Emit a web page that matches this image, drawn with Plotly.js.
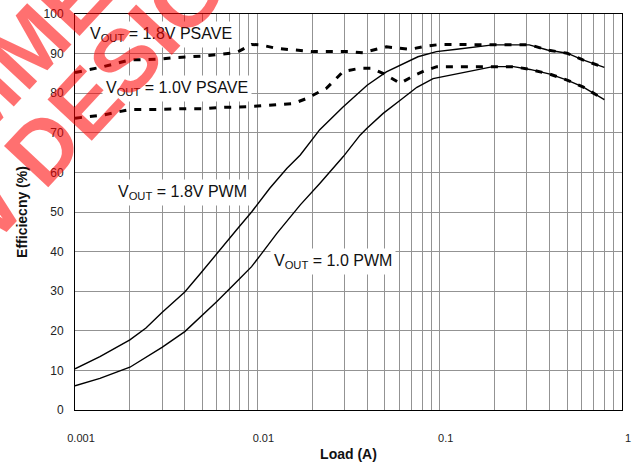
<!DOCTYPE html>
<html>
<head>
<meta charset="utf-8">
<script src="https://cdn.plot.ly/plotly-3.0.1.min.js"></script>
<style>html,body{margin:0;padding:0;background:#fff;}#chart{width:643px;height:468px;}</style>
</head>
<body>
<div id="chart"></div>
<script>
// ---- data ----
var load18pwm = [0.001, 0.00137, 0.002, 0.00245, 0.003, 0.004, 0.0049, 0.006, 0.0077, 0.0093, 0.0117, 0.0145, 0.0172, 0.022, 0.0295, 0.04, 0.051, 0.076, 0.096, 0.124, 0.196, 0.31, 0.39, 0.5, 0.61, 0.8];
var eff18pwm  = [10.4, 13.5, 17.7, 20.7, 24.6, 29.8, 34.6, 39.6, 45.5, 50, 56, 61, 64.4, 70.8, 76.5, 82, 85.4, 89.2, 90.5, 91.1, 92.2, 92.2, 90.9, 90.1, 88.4, 86.5];

var load10pwm = [0.001, 0.00137, 0.002, 0.0024, 0.003, 0.004, 0.0049, 0.006, 0.0077, 0.0093, 0.0104, 0.0128, 0.0172, 0.022, 0.0296, 0.0366, 0.0398, 0.049, 0.061, 0.075, 0.092, 0.129, 0.196, 0.254, 0.313, 0.403, 0.5, 0.61, 0.8];
var eff10pwm  = [6.1, 8, 10.8, 13, 15.8, 19.8, 23.6, 27.4, 32.4, 36.2, 39.1, 44.6, 51.8, 57.2, 64, 69.4, 71.1, 74.9, 78.3, 81.5, 83.7, 85, 86.7, 86.7, 86, 84.8, 83.3, 81.6, 78.4];

var load18ps = [0.001, 0.00143, 0.002, 0.0029, 0.0036, 0.0051, 0.0074, 0.008, 0.0093, 0.0104, 0.0128, 0.0203, 0.032, 0.038, 0.0415, 0.051, 0.069, 0.085, 0.1, 0.197, 0.313, 0.39, 0.5, 0.61, 0.8];
var eff18ps  = [85.2, 86.7, 88.4, 88.6, 89, 89.4, 90.2, 90.7, 92.3, 92.2, 91.3, 90.5, 90.5, 90.2, 90.7, 91.7, 91.1, 91.9, 92.3, 92.3, 92.2, 90.9, 90.1, 88.4, 86.5];

var load10ps = [0.001, 0.00143, 0.002, 0.0029, 0.0041, 0.0051, 0.0062, 0.0091, 0.0128, 0.0158, 0.0187, 0.024, 0.0296, 0.0366, 0.0424, 0.05, 0.0607, 0.0733, 0.0832, 0.0964, 0.124, 0.197, 0.254, 0.313, 0.403, 0.5, 0.61, 0.8];
var eff10ps  = [73.7, 74.5, 75.9, 75.9, 76.1, 76.1, 76.4, 76.6, 77.1, 77.4, 78.7, 81.3, 85.5, 86.3, 86.3, 84.8, 82.5, 84.6, 85.7, 86.7, 86.7, 86.7, 86.7, 86, 84.8, 83.3, 81.6, 78.4];

var xTickVals = [0.001, 0.002, 0.003, 0.004, 0.005, 0.006, 0.007, 0.008, 0.009,
                 0.01, 0.02, 0.03, 0.04, 0.05, 0.06, 0.07, 0.08, 0.09,
                 0.1, 0.2, 0.3, 0.4, 0.5, 0.6, 0.7, 0.8, 0.9, 1];
var xTickText = ['0.001', '', '', '', '', '', '', '', '',
                 '0.01', '', '', '', '', '', '', '', '',
                 '0.1', '', '', '', '', '', '', '', '', '1'];
var yTickVals = [0, 10, 20, 30, 40, 50, 60, 70, 80, 90, 100];

var labels = ['V<sub>OUT</sub> = 1.8V PSAVE', 'V<sub>OUT</sub> = 1.0V PSAVE', 'V<sub>OUT</sub> = 1.8V PWM', 'V<sub>OUT</sub> = 1.0 PWM'];
var watermark = ['RECOMMENDED', 'NEW DESIGNS'];

// ---- chart ----
var FONT = 'Arial, "Liberation Sans", sans-serif';
var solid = {color: '#000', width: 1.4};
var dashed = {color: '#000', width: 3, dash: '7px,8px'};

var traces = [
  {x: load18pwm, y: eff18pwm, mode: 'lines', line: solid, name: '1.8V PWM'},
  {x: load10pwm, y: eff10pwm, mode: 'lines', line: solid, name: '1.0V PWM'},
  {x: load18ps, y: eff18ps, mode: 'lines', line: dashed, name: '1.8V PSAVE'},
  {x: load10ps, y: eff10ps, mode: 'lines', line: dashed, name: '1.0V PSAVE'}
];

function lab(text, x, y) {
  return {text: text, xref: 'paper', yref: 'paper', x: x, y: y, xanchor: 'center', yanchor: 'middle',
          showarrow: false, bgcolor: '#fff', borderpad: 3,
          font: {family: FONT, size: 16, color: '#111'}};
}
function wm(text, x, y) {
  return {text: '<b>' + text + '</b>', xref: 'paper', yref: 'paper', x: x, y: y, xanchor: 'center', yanchor: 'middle',
          showarrow: false, textangle: -47,
          font: {family: FONT, size: 88, color: 'rgba(255,0,0,0.56)'}};
}

var layout = {
  width: 643, height: 468,
  margin: {l: 75, r: 21, t: 14, b: 58},
  paper_bgcolor: '#fff', plot_bgcolor: '#fff',
  showlegend: false,
  font: {family: FONT, color: '#222'},
  xaxis: {
    type: 'log', range: [-3, 0],
    tickmode: 'array', tickvals: xTickVals, ticktext: xTickText,
    ticks: '', ticklabelstandoff: 18, ticklabelshift: 6,
    tickfont: {family: FONT, size: 11, color: '#222'},
    showgrid: true, gridcolor: '#939393', gridwidth: 1,
    showline: true, linecolor: '#000', linewidth: 1, mirror: true,
    zeroline: false,
    title: {text: '<b>Load (A)</b>', font: {family: FONT, size: 14, color: '#111'}, standoff: 5}
  },
  yaxis: {
    range: [0, 100], tickmode: 'array', tickvals: yTickVals,
    ticks: '', ticklabelstandoff: 8,
    tickfont: {family: FONT, size: 12, color: '#222'},
    showgrid: true, gridcolor: '#939393', gridwidth: 1,
    showline: true, linecolor: '#000', linewidth: 1, mirror: true,
    zeroline: false,
    title: {text: '<b>Efficiecny (%)</b>', font: {family: FONT, size: 14, color: '#111'}, standoff: 12}
  },
  annotations: [
    lab(labels[0], 0.157, 0.947),
    lab(labels[1], 0.1856, 0.813),
    lab(labels[2], 0.1974, 0.548),
    lab(labels[3], 0.4717, 0.376),
    wm(watermark[0], -0.098, 0.9008),
    wm(watermark[1], 0.0079, 0.7578)
  ]
};

Plotly.newPlot('chart', traces, layout, {staticPlot: true, displayModeBar: false});
</script>
</body>
</html>
